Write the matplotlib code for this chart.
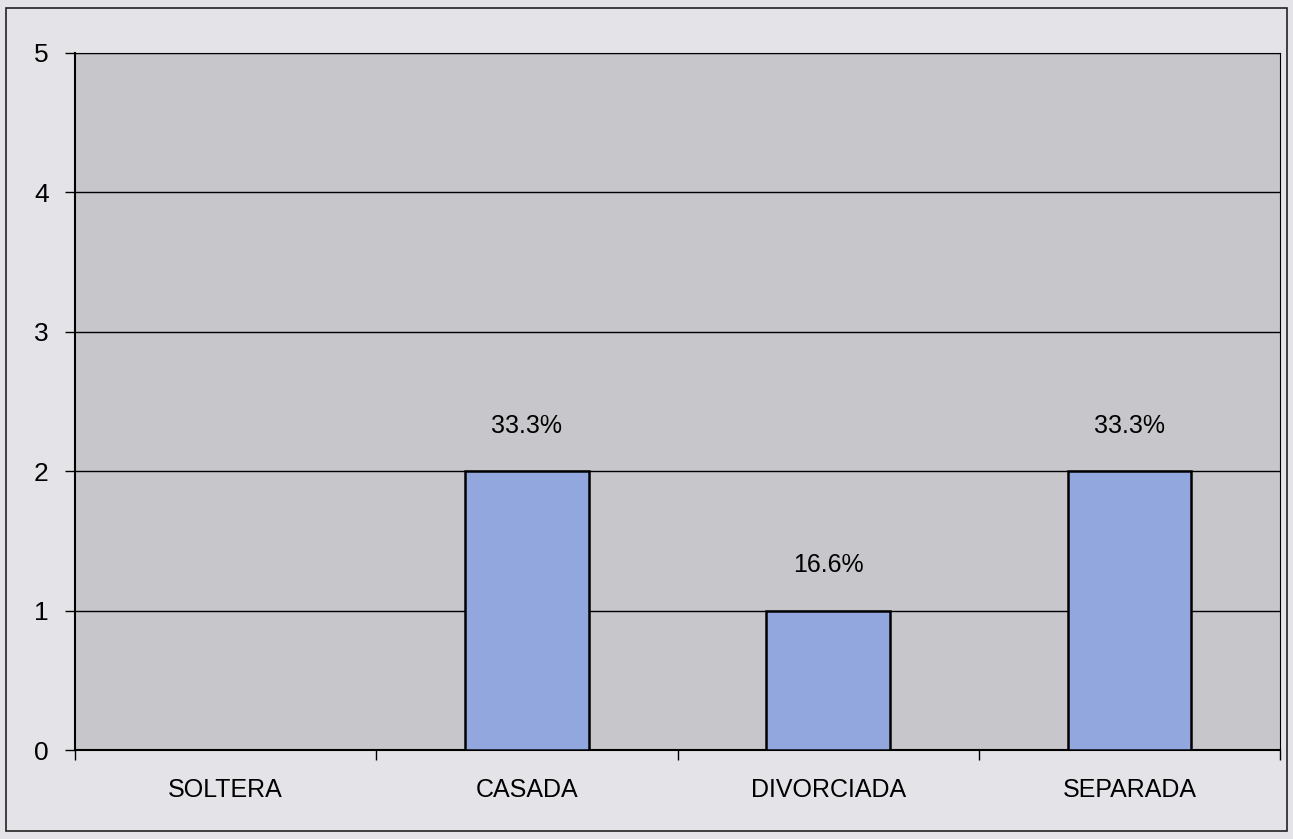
import matplotlib.pyplot as plt
import matplotlib.patches as mpatches
import numpy as np

categories = ["SOLTERA", "CASADA", "DIVORCIADA", "SEPARADA"]
counts = [0, 2, 1, 2]
labels = ["", "33.3%", "16.6%", "33.3%"]


def main():
    plt.rcParams['font.family'] = ['Liberation Sans', 'DejaVu Sans']
    fig = plt.figure(figsize=(12.93, 8.39), dpi=100, facecolor="#e4e4e8")
    ax = fig.add_axes([0.058, 0.106, 0.932, 0.831])
    ax.set_facecolor("#c6c6cb")

    # outer chart border
    fig.patches.append(mpatches.Rectangle((0.005, 0.01), 0.99, 0.98, transform=fig.transFigure,
                                          fill=False, edgecolor="#222222", linewidth=1.2))

    x = np.arange(len(categories))
    bars = ax.bar(x, counts, width=0.41, color="#93a7df", edgecolor="black", linewidth=1.8, zorder=3)
    for b, lab, v in zip(bars, labels, counts):
        if lab:
            ax.annotate(lab, (b.get_x() + b.get_width() / 2, v), xytext=(0, 24),
                        textcoords="offset points", ha="center", va="bottom", fontsize=18)

    ax.set_xlim(-0.5, len(categories) - 0.5)
    ax.set_ylim(0, 5)
    ax.set_yticks(range(6))
    ax.yaxis.grid(True, color="black", linewidth=1.0)
    ax.set_axisbelow(True)
    ax.set_xticks(x)
    ax.set_xticklabels(categories, fontsize=18)
    ax.tick_params(axis="x", length=0, pad=20)
    ax.set_xticks(np.arange(len(categories) + 1) - 0.5, minor=True)
    ax.tick_params(axis="x", which="minor", length=7, width=1, direction="out")
    ax.tick_params(axis="y", labelsize=19, length=7, width=1, pad=12)
    for s in ["left", "bottom"]:
        ax.spines[s].set_linewidth(1.5)
    for s in ["top", "right"]:
        ax.spines[s].set_linewidth(0.8)

    fig.savefig("out.png", dpi=100, facecolor=fig.get_facecolor())


if __name__ == "__main__":
    main()
